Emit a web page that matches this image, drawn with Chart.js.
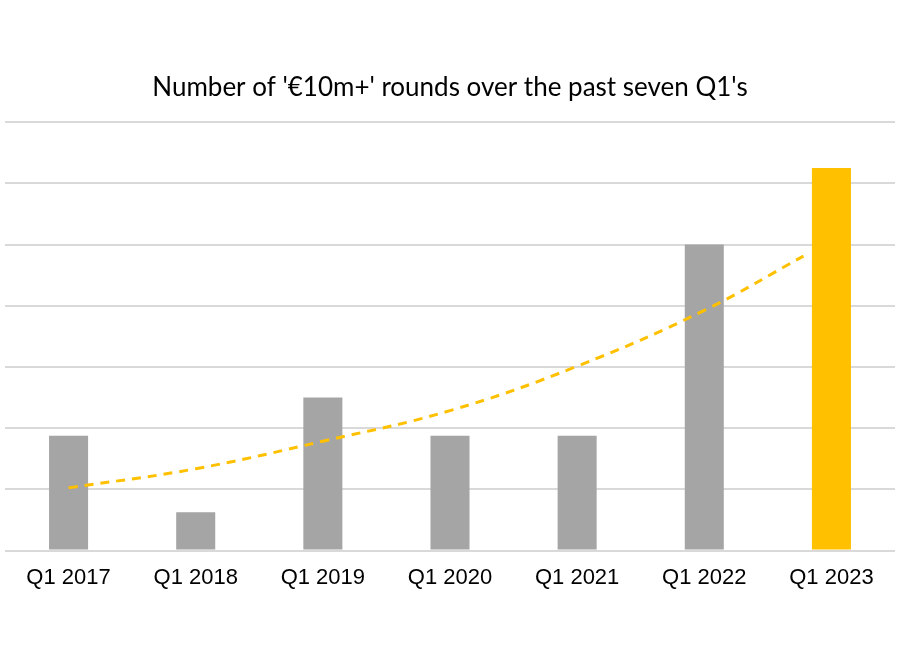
<!DOCTYPE html>
<html>
<head>
<meta charset="utf-8">
<script src="https://cdn.jsdelivr.net/npm/chart.js@4/dist/chart.umd.min.js"></script>
<style>
  html, body { margin: 0; padding: 0; background: #fff; }
  #wrap { width: 900px; height: 650px; }
</style>
</head>
<body>
<div id="wrap"><canvas id="roundsChart"></canvas></div>
<script>
// Categories and values
const quarters = ['Q1 2017', 'Q1 2018', 'Q1 2019', 'Q1 2020', 'Q1 2021', 'Q1 2022', 'Q1 2023'];
const rounds = [15, 5, 20, 15, 15, 40, 50];
const barColors = ['#a5a5a5', '#a5a5a5', '#a5a5a5', '#a5a5a5', '#a5a5a5', '#a5a5a5', '#ffc000'];

// Exponential trendline as drawn (position on category axis, value)
const trendX = [0, 1, 2, 3, 4, 5, 5.78];
const trendY = [8.2, 10.7, 14.3, 18.3, 24.1, 31.4, 38.5];

const yMax = 56;
const yStep = 8;

document.addEventListener('DOMContentLoaded', function () {
    const ctx = document.getElementById('roundsChart').getContext('2d');
    new Chart(ctx, {
        type: 'bar',
        data: {
            labels: quarters,
            datasets: [{
                type: 'line',
                label: 'Trend',
                data: trendX.map((x, i) => ({ x: x, y: trendY[i] })),
                xAxisID: 'xTrend',
                borderColor: '#ffc000',
                borderWidth: 3,
                borderDash: [9, 7],
                pointRadius: 0,
                tension: 0.4,
                fill: false
            }, {
                type: 'bar',
                label: 'Rounds',
                data: rounds,
                xAxisID: 'x',
                backgroundColor: barColors,
                grouped: false,
                barPercentage: 0.307,
                categoryPercentage: 1
            }]
        },
        options: {
            responsive: true,
            maintainAspectRatio: false,
            animation: false,
            layout: { padding: { left: 5, right: 5, top: 0, bottom: 53 } },
            scales: {
                x: {
                    grid: { display: false },
                    border: { display: false },
                    ticks: {
                        color: '#000000',
                        padding: 6,
                        font: { family: 'Liberation Sans', size: 22 }
                    }
                },
                xTrend: {
                    type: 'linear',
                    display: false,
                    offset: false,
                    min: -0.5,
                    max: 6.5
                },
                y: {
                    min: 0,
                    max: yMax,
                    grid: { color: '#d9d9d9', lineWidth: 2, drawTicks: false },
                    border: { display: false },
                    ticks: { display: false, stepSize: yStep }
                }
            },
            plugins: {
                legend: { display: false },
                tooltip: { enabled: false },
                title: {
                    display: true,
                    text: "Number of '€10m+' rounds over the past seven Q1's",
                    color: '#000000',
                    font: { family: 'Lato', size: 26, weight: 'normal' },
                    padding: { top: 72, bottom: 19 }
                }
            }
        }
    });
});
</script>
</body>
</html>
